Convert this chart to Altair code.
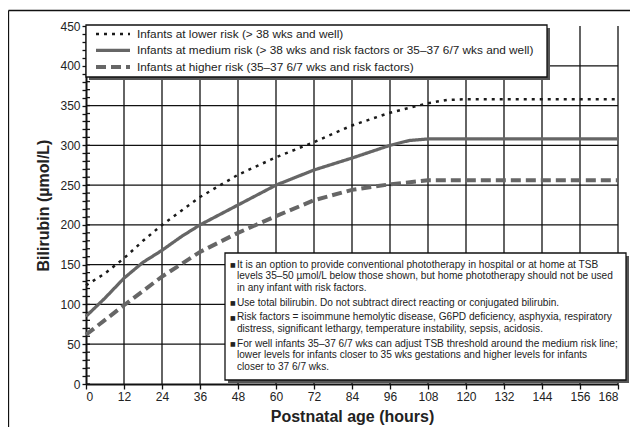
import altair as alt
import pandas as pd

# ---- data ----
series_names = [
    "Infants at lower risk (> 38 wks and well)",
    "Infants at medium risk (> 38 wks and risk factors or 35\u201337 6/7 wks and well)",
    "Infants at higher risk (35\u201337 6/7 wks and risk factors)",
]
low_hours = [0, 6, 12, 18, 24, 36, 48, 60, 72, 84, 96, 108, 114, 120, 168]
low_vals = [124, 139, 158, 180, 200, 235, 263, 285, 304, 325, 341, 353, 357, 358, 358]
med_hours = [0, 6, 12, 18, 24, 30, 36, 48, 60, 72, 84, 96, 102, 108, 168]
med_vals = [85, 108, 133, 153, 168, 185, 200, 225, 250, 269, 284, 300, 306, 308, 308]
high_hours = [0, 12, 24, 36, 48, 60, 72, 84, 96, 108, 168]
high_vals = [62, 99, 135, 166, 190, 211, 231, 244, 251, 256, 256]

x_ticks = list(range(0, 169, 12))
y_ticks = list(range(0, 451, 10))
y_grid = list(range(50, 401, 50))
x_grid = list(range(12, 169, 12))

notes = [
    ["It is an option to provide conventional phototherapy in hospital or at home at TSB",
     "levels 35\u201350 \u00b5mol/L below those shown, but home phototherapy should not be used",
     "in any infant with risk factors."],
    ["Use total bilirubin. Do not subtract direct reacting or conjugated bilirubin."],
    ["Risk factors = isoimmune hemolytic disease, G6PD deficiency, asphyxia, respiratory",
     "distress, significant lethargy, temperature instability, sepsis, acidosis."],
    ["For well infants 35\u201337 6/7 wks can adjust TSB threshold around the medium risk line;",
     "lower levels for infants closer to 35 wks gestations and higher levels for infants",
     "closer to 37 6/7 wks."],
]

# ---- tables ----
rows = []
for name, hs, vs in zip(series_names, [low_hours, med_hours, high_hours],
                        [low_vals, med_vals, high_vals]):
    for h, v in zip(hs, vs):
        rows.append({"series": name, "hour": h, "bili": v})
df = pd.DataFrame(rows)

W, H = 532, 358
FONT = "Liberation Sans"

xs = alt.Scale(domain=[0, 168], nice=False, zero=False)
ys = alt.Scale(domain=[0, 450], nice=False)

x_axis = alt.Axis(
    values=x_ticks, title="Postnatal age (hours)", grid=False,
    domainColor="#111", domainWidth=2, tickColor="#111", tickWidth=1.3, tickSize=5,
    labelFont=FONT, labelFontSize=12, labelColor="#222", labelPadding=2,
    titleFont=FONT, titleFontSize=16, titleFontWeight="bold", titleColor="#222",
    titlePadding=6)
y_axis = alt.Axis(
    values=y_ticks, labelExpr="datum.value % 50 == 0 ? datum.label : ''",
    title="Bilirubin (\u00b5mol/L)", grid=False, labelOverlap=False,
    domainColor="#111", domainWidth=2, tickColor="#111", tickWidth=1.3, tickSize=4,
    labelFont=FONT, labelFontSize=12, labelColor="#222", labelPadding=2,
    titleFont=FONT, titleFontSize=16, titleFontWeight="bold", titleColor="#222",
    titlePadding=8)

one = pd.DataFrame({"a": [0]})

# outer frame: top and left edges (the rest lies outside the picture)
frame_top = alt.Chart(one).mark_rule(color="#111", strokeWidth=1.3, clip=False).encode(
    x=alt.value(-77.5), x2=alt.value(W + 12), y=alt.value(-15.5)
)
frame_left = alt.Chart(one).mark_rule(color="#111", strokeWidth=1.3, clip=False).encode(
    x=alt.value(-77.5), y=alt.value(-15.5), y2=alt.value(H + 43)
)

vgrid = alt.Chart(pd.DataFrame({"h": x_grid})).mark_rule(color="#111", strokeWidth=1.3).encode(
    x=alt.X("h:Q", scale=xs, axis=x_axis)
)
hgrid = alt.Chart(pd.DataFrame({"b": y_grid})).mark_rule(color="#111", strokeWidth=1.3).encode(
    y=alt.Y("b:Q", scale=ys, axis=y_axis)
)
inner_ticks = alt.Chart(pd.DataFrame({"b": y_ticks})).mark_rule(color="#111", strokeWidth=1.3).encode(
    y=alt.Y("b:Q", scale=ys, axis=y_axis), x=alt.value(0), x2=alt.value(4)
)

# legend box (drawn as marks) + legend entries
lg_x, lg_x2, lg_y, lg_y2 = 0, 461, -1, 51
leg_shadow = alt.Chart(one).mark_rect(fill="#555", clip=False).encode(
    x=alt.value(lg_x + 3), x2=alt.value(lg_x2 + 3), y=alt.value(lg_y + 3), y2=alt.value(lg_y2 + 3)
)
leg_box = alt.Chart(one).mark_rect(fill="white", stroke="#111", strokeWidth=1.3, clip=False).encode(
    x=alt.value(lg_x), x2=alt.value(lg_x2), y=alt.value(lg_y), y2=alt.value(lg_y2)
)

leg = alt.Legend(
    title=None, orient="none", legendX=0, legendY=-2.5, padding=4,
    labelFont=FONT, labelFontSize=11.8, labelColor="#222",
    symbolType="M-0.2,0H6.6", symbolSize=100, labelOffset=33, rowPadding=1.8,
    labelLimit=600,
)

lines = alt.Chart(df).mark_line().encode(
    x=alt.X("hour:Q", scale=xs, axis=x_axis),
    y=alt.Y("bili:Q", scale=ys, axis=y_axis),
    color=alt.Color("series:N", scale=alt.Scale(domain=series_names, range=["#1a1a1a", "#666666", "#666666"]), legend=leg),
    strokeDash=alt.StrokeDash("series:N", scale=alt.Scale(domain=series_names, range=[[3, 5], [1, 0], [10, 5]]), legend=leg),
    strokeWidth=alt.StrokeWidth("series:N", scale=alt.Scale(domain=series_names, range=[2.5, 4, 2.5]), legend=leg),
    order="hour:Q",
)

box_x, box_x2, box_y, box_y2 = 139, 540, 227, 354
note_shadow = alt.Chart(one).mark_rect(fill="#555", clip=False).encode(
    x=alt.value(box_x + 3), x2=alt.value(box_x2 + 3), y=alt.value(box_y + 3), y2=alt.value(box_y2 + 3)
)
note_box = alt.Chart(one).mark_rect(fill="white", stroke="#111", strokeWidth=1.3, clip=False).encode(
    x=alt.value(box_x), x2=alt.value(box_x2), y=alt.value(box_y), y2=alt.value(box_y2)
)

note_layers = []
line_h = 11.6
gap = 3.2
yy = 239.0
for group in notes:
    note_layers.append(
        alt.Chart(one).mark_text(
            text=group, align="left", baseline="top", font=FONT, fontSize=10.1,
            lineHeight=line_h, color="#222", clip=False
        ).encode(x=alt.value(box_x + 12), y=alt.value(yy - 5.5))
    )
    note_layers.append(
        alt.Chart(one).mark_text(
            text="\u25a0", align="left", baseline="middle", font="DejaVu Sans", fontSize=6,
            color="#222", clip=False
        ).encode(x=alt.value(box_x + 5), y=alt.value(yy))
    )
    yy += line_h * len(group) + gap

chart = alt.layer(
    frame_top, frame_left, vgrid, hgrid, inner_ticks, leg_shadow, leg_box, lines,
    note_shadow, note_box, *note_layers
).properties(
    width=W, height=H,
    autosize=alt.AutoSizeParams(type="none"),
    padding={"left": 78, "top": 18, "right": 12, "bottom": 43},
).configure_view(stroke=None)

chart.save("out.html", embed_options={"renderer": "svg", "actions": False})
